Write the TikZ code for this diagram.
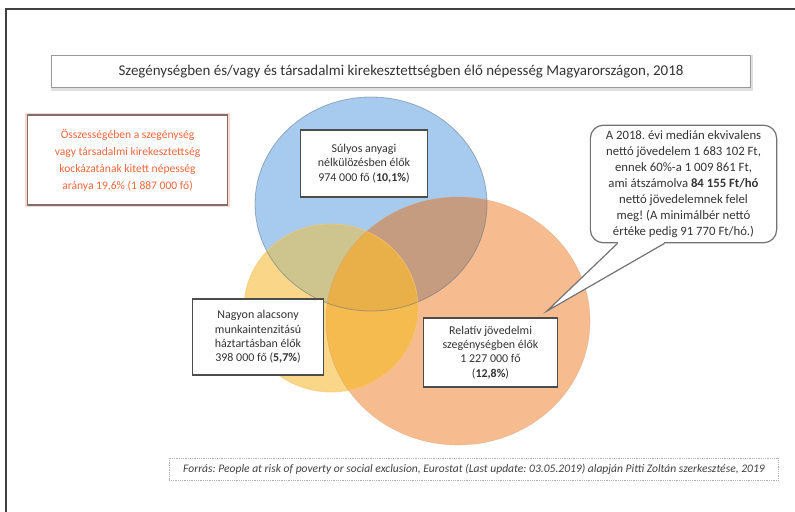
\documentclass[tikz,border=0pt]{standalone}
\usepackage{fontspec}
\setmainfont{Carlito}
\usepackage{tikz}
\definecolor{venblue}{RGB}{167,203,238}
\definecolor{venyellow}{RGB}{250,214,136}
\definecolor{venorange}{RGB}{246,188,144}
\definecolor{venby}{RGB}{206,196,142}
\definecolor{venbo}{RGB}{198,156,128}
\definecolor{venyo}{RGB}{245,187,78}
\definecolor{venall}{RGB}{233,175,72}
\definecolor{notered}{RGB}{240,102,58}
\definecolor{noteframe}{RGB}{128,110,110}
\frenchspacing

\begin{document}
\begin{tikzpicture}[x=1bp, y=-1bp,
  every node/.style={align=center, text=black!80, inner sep=0pt, font=\fontsize{12}{14.3}\selectfont},
  box/.style={draw=black!70, line width=1.4bp, fill=white},
  blueshape/.style={x radius=116, y radius=107},
  yellowshape/.style={x radius=87, y radius=84},
  orangeshape/.style={x radius=132, y radius=124}]
  \useasboundingbox (0,0) rectangle (795,512);
  \draw[black!75, line width=1.3bp] (6,512) -- (6,9) -- (795,9);

  \coordinate (cb) at (371,204);
  \coordinate (cy) at (331,308);
  \coordinate (co) at (458,321);
  \fill[venblue] (cb) ellipse [blueshape];
  \fill[venyellow] (cy) ellipse [yellowshape];
  \fill[venorange] (co) ellipse [orangeshape];
  \begin{scope}
    \clip (cb) ellipse [blueshape];
    \fill[venby] (cy) ellipse [yellowshape];
    \fill[venbo] (co) ellipse [orangeshape];
  \end{scope}
  \begin{scope}
    \clip (cy) ellipse [yellowshape];
    \fill[venyo] (co) ellipse [orangeshape];
  \end{scope}
  \begin{scope}
    \clip (cb) ellipse [blueshape];
    \clip (cy) ellipse [yellowshape];
    \fill[venall] (co) ellipse [orangeshape];
  \end{scope}
  \draw[venblue!55!black, line width=0.8bp, opacity=0.5] (cb) ellipse [blueshape];
  \draw[venyellow!80!orange, line width=0.8bp, opacity=0.6] (cy) ellipse [yellowshape];
  \draw[venorange!85!black, line width=0.6bp, opacity=0.4] (co) ellipse [orangeshape];

  \node (title) [draw=black!40, line width=1bp, fill=white, minimum width=702, minimum height=33,
    preaction={draw=black!12, line width=3bp, transform canvas={xshift=1bp, yshift=-1.5bp}},
    font=\fontsize{15}{17}\selectfont] at (401,71.5)
    {Szegénységben és/vagy és társadalmi kirekesztettségben élő népesség Magyarországon, 2018};
  \node (total) [draw=noteframe, line width=1.5bp, fill=white, minimum width=201, minimum height=90,
    preaction={draw=notered!25, line width=4bp},
    text=notered, font=\fontsize{11.6}{17}\selectfont] at (127.5,160)
    {Összességében a szegénység\\vagy társadalmi kirekesztettség\\kockázatának kitett népesség\\aránya 19,6\% (1 887 000 fő)};
  \node (depriv) [box, minimum width=128, minimum height=67] at (364,163.5)
    {Súlyos anyagi\\nélkülözésben élők\\974 000 fő (\textbf{10,1\%})};
  \node (lowwork) [box, minimum width=132, minimum height=76] at (258,337)
    {Nagyon alacsony\\munkaintenzitású\\háztartásban élők\\398 000 fő (\textbf{5,7\%})};
  \node (income) [box, minimum width=135, minimum height=69] at (490.5,352.5)
    {Relatív jövedelmi\\szegénységben élők\\1 227 000 fő\\(\textbf{12,8\%})};

  \node (note) [draw=black!55, line width=1.2bp, fill=white, rounded corners=13bp, minimum width=187, minimum height=118,
    font=\fontsize{12.8}{16}\selectfont] at (683.5,184)
    {A 2018. évi medián ekvivalens\\nettó jövedelem 1 683 102 Ft,\\ennek 60\%-a 1 009 861 Ft,\\ami átszámolva \textbf{84 155 Ft/hó}\\nettó jövedelemnek felel\\meg! (A minimálbér nettó\\értéke pedig 91 770 Ft/hó.)};
  \coordinate (tip) at (547,311);
  \coordinate (pl) at ([xshift=-66bp]note.south);
  \coordinate (pr) at ([xshift=-19bp]note.south);
  \fill[white] (pl) -- (tip) -- (pr) -- cycle;
  \fill[white] ([xshift=0.6bp, yshift=1.2bp]pl) rectangle ([xshift=-0.6bp, yshift=-1.2bp]pr);
  \draw[black!55, line width=1.2bp, line join=miter] (pl) -- (tip) -- (pr);

  \node (source) [draw=black!30, densely dotted, line width=0.8bp, minimum width=612, minimum height=22,
    font=\fontsize{11.6}{13}\selectfont\itshape, text=black!75] at (474,469)
    {Forrás: People at risk of poverty or social exclusion, Eurostat (Last update: 03.05.2019) alapján Pitti Zoltán szerkesztése, 2019};
\end{tikzpicture}
\end{document}
